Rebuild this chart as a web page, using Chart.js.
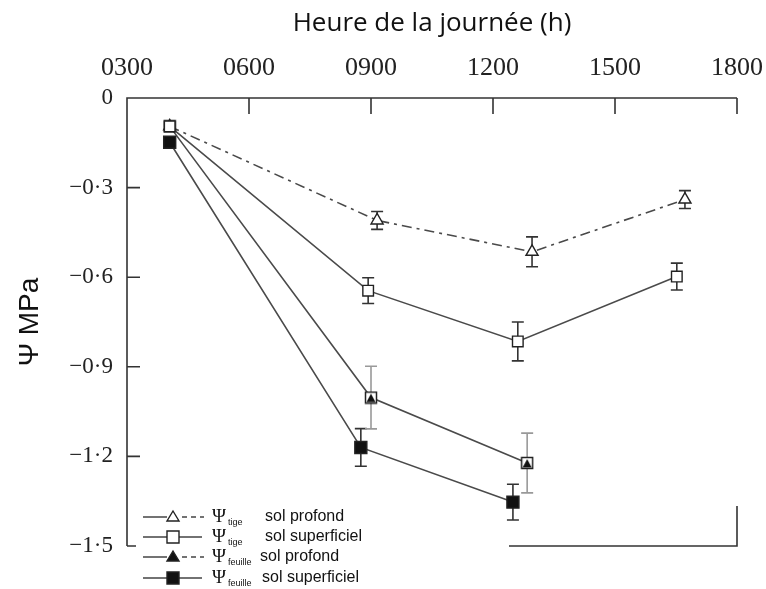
<!DOCTYPE html>
<html>
<head>
<meta charset="utf-8">
<script src="https://cdn.jsdelivr.net/npm/chart.js@4.4.0/dist/chart.umd.min.js"></script>
<style>
    html, body { margin: 0; padding: 0; background: #fff; }
    #wrap { width: 766px; height: 589px; position: relative; }
</style>
</head>
<body>
<div id="wrap"><canvas id="chart"></canvas></div>
<script>
// axis ticks
const xTickValues = [3, 6, 9, 12, 15, 18];
const xTickLabels = ['0300', '0600', '0900', '1200', '1500', '1800'];
const yTickValues = [0, -0.3, -0.6, -0.9, -1.2, -1.5];
const yTickLabels = ['0', '−0·3', '−0·6', '−0·9', '−1·2', '−1·5'];

// hour of day (decimal) / potential (MPa) / error (+/-)
const tigeProfondHours = [4.05, 9.15, 12.96, 16.72];
const tigeProfondPsi = [-0.095, -0.41, -0.515, -0.34];
const tigeProfondErr = [0, 0.03, 0.05, 0.03];

const tigeSuperficielHours = [4.05, 8.93, 12.61, 16.52];
const tigeSuperficielPsi = [-0.095, -0.645, -0.815, -0.598];
const tigeSuperficielErr = [0, 0.043, 0.065, 0.045];

const feuilleProfondHours = [4.05, 9.0, 12.84];
const feuilleProfondPsi = [-0.095, -1.003, -1.222];
const feuilleProfondErr = [0, 0.105, 0.10];

const feuilleSuperficielHours = [4.05, 8.75, 12.49];
const feuilleSuperficielPsi = [-0.148, -1.17, -1.353];
const feuilleSuperficielErr = [0, 0.063, 0.06];

const INK = '#333';

const toPoints = (hours, psi) => hours.map((h, i) => ({ x: h, y: psi[i] }));

// square outline with a filled triangle inside (as drawn in the source figure)
function squareTriangle() {
    const c = document.createElement('canvas');
    c.width = 14; c.height = 14;
    const g = c.getContext('2d');
    g.fillStyle = '#fff';
    g.fillRect(1, 1, 12, 12);
    g.strokeStyle = '#222';
    g.lineWidth = 1.5;
    g.strokeRect(1.5, 1.5, 11, 11);
    g.fillStyle = '#111';
    g.beginPath();
    g.moveTo(7, 3);
    g.lineTo(11.5, 11.5);
    g.lineTo(2.5, 11.5);
    g.closePath();
    g.fill();
    return c;
}

function drawLegend(ctx) {
    // legend pasted over the lower left corner
    ctx.fillStyle = '#fff';
    ctx.fillRect(136, 505, 373, 84);

    const rows = [
        { y: 517, dash: true, marker: 'openTri', sub: 'tige', text: 'sol profond', tx: 265 },
        { y: 537, dash: false, marker: 'openSq', sub: 'tige', text: 'sol superficiel', tx: 265 },
        { y: 557, dash: true, marker: 'fillTri', sub: 'feuille', text: 'sol profond', tx: 260 },
        { y: 578, dash: false, marker: 'fillSq', sub: 'feuille', text: 'sol superficiel', tx: 262 }
    ];
    rows.forEach(r => {
        ctx.strokeStyle = '#444';
        ctx.lineWidth = 1.5;
        ctx.setLineDash([]);
        ctx.beginPath();
        ctx.moveTo(143, r.y); ctx.lineTo(167, r.y);
        if (!r.dash) { ctx.moveTo(179, r.y); ctx.lineTo(202, r.y); }
        ctx.stroke();
        if (r.dash) {
            ctx.setLineDash([5, 4]);
            ctx.beginPath();
            ctx.moveTo(182, r.y); ctx.lineTo(204, r.y);
            ctx.stroke();
            ctx.setLineDash([]);
        }
        ctx.lineWidth = 1.4;
        ctx.strokeStyle = '#222';
        const mx = 173;
        ctx.beginPath();
        if (r.marker.endsWith('Tri')) {
            ctx.moveTo(mx, r.y - 6); ctx.lineTo(mx + 6, r.y + 4); ctx.lineTo(mx - 6, r.y + 4); ctx.closePath();
        } else {
            ctx.rect(mx - 6, r.y - 6, 12, 12);
        }
        ctx.fillStyle = r.marker.startsWith('fill') ? '#111' : '#fff';
        ctx.fill();
        ctx.stroke();

        ctx.fillStyle = '#111';
        ctx.textBaseline = 'middle';
        ctx.textAlign = 'left';
        ctx.font = '19px "Liberation Serif"';
        ctx.fillText('Ψ', 212, r.y);
        ctx.font = '9px "Liberation Sans"';
        ctx.fillText(r.sub, 228, r.y + 6);
        ctx.font = '16px "Liberation Sans"';
        ctx.fillText(r.text, r.tx, r.y);
    });
}

// frame, inward ticks, legend and error bars all go under the data markers
const underlayPlugin = {
    id: 'underlay',
    beforeDatasetsDraw(chart) {
        const { ctx, chartArea: a, scales } = chart;
        ctx.save();
        ctx.strokeStyle = INK;
        ctx.lineWidth = 1.6;
        ctx.beginPath();
        ctx.moveTo(a.left, a.bottom); ctx.lineTo(a.left, a.top);
        ctx.lineTo(a.right, a.top);
        // right side only shows near the bottom in the source
        ctx.moveTo(a.right, a.bottom - 40); ctx.lineTo(a.right, a.bottom);
        ctx.lineTo(a.left, a.bottom);
        xTickValues.forEach(v => {
            const px = scales.x.getPixelForValue(v);
            ctx.moveTo(px, a.top); ctx.lineTo(px, a.top + 16);
        });
        yTickValues.forEach(v => {
            const py = scales.y.getPixelForValue(v);
            ctx.moveTo(a.left, py); ctx.lineTo(a.left + 13, py);
        });
        ctx.stroke();

        drawLegend(ctx);

        chart.data.datasets.forEach((ds, di) => {
            const meta = chart.getDatasetMeta(di);
            ctx.strokeStyle = ds.errColor;
            ctx.lineWidth = 1.6;
            ds.errors.forEach((e, i) => {
                if (!e) return;
                const pt = meta.data[i];
                const v = ds.data[i].y;
                const yTop = scales.y.getPixelForValue(v + e);
                const yBot = scales.y.getPixelForValue(v - e);
                ctx.beginPath();
                ctx.moveTo(pt.x, yTop); ctx.lineTo(pt.x, yBot);
                ctx.moveTo(pt.x - 6, yTop); ctx.lineTo(pt.x + 6, yTop);
                ctx.moveTo(pt.x - 6, yBot); ctx.lineTo(pt.x + 6, yBot);
                ctx.stroke();
            });
        });
        ctx.restore();
    }
};

const makeSet = (label, hours, psi, errs, opts) => Object.assign({
    label: label,
    data: toPoints(hours, psi),
    errors: errs,
    errColor: INK,
    borderColor: '#4a4a4a',
    borderWidth: 1.6,
    showLine: true,
    tension: 0,
    clip: false,
    pointBorderColor: '#222',
    pointBorderWidth: 1.4,
    pointHoverRadius: 7
}, opts);

new Chart(document.getElementById('chart'), {
    type: 'scatter',
    data: {
        datasets: [
            makeSet('Ψtige sol superficiel', tigeSuperficielHours, tigeSuperficielPsi, tigeSuperficielErr, {
                pointStyle: 'rect', pointRadius: 7.5, pointBackgroundColor: '#fff'
            }),
            makeSet('Ψtige sol profond', tigeProfondHours, tigeProfondPsi, tigeProfondErr, {
                pointStyle: 'triangle', pointRadius: 7, pointBackgroundColor: '#fff',
                borderDash: [10, 5, 3, 5]
            }),
            makeSet('Ψfeuille sol superficiel', feuilleSuperficielHours, feuilleSuperficielPsi, feuilleSuperficielErr, {
                pointStyle: 'rect', pointRadius: 8.5, pointBackgroundColor: '#111'
            }),
            makeSet('Ψfeuille sol profond', feuilleProfondHours, feuilleProfondPsi, feuilleProfondErr, {
                pointStyle: squareTriangle(), errColor: '#999'
            })
        ]
    },
    options: {
        responsive: true,
        maintainAspectRatio: false,
        animation: false,
        layout: { padding: { left: 0, top: 0, right: 29, bottom: 43 } },
        plugins: {
            legend: { display: false },
            tooltip: { enabled: true }
        },
        scales: {
            x: {
                type: 'linear',
                position: 'top',
                min: 3,
                max: 18,
                afterFit: s => { s.height = 98; s.paddingLeft = 0; s.paddingRight = 0; },
                afterBuildTicks: s => { s.ticks = xTickValues.map(v => ({ value: v })); },
                grid: { display: false, drawTicks: false },
                border: { display: false },
                ticks: {
                    padding: 14,
                    color: '#222',
                    font: { family: '"Liberation Serif"', size: 26 },
                    callback: v => xTickLabels[xTickValues.indexOf(v)]
                },
                title: {
                    display: true,
                    text: 'Heure de la journée (h)',
                    color: '#111',
                    padding: { top: 8 },
                    font: { family: '"Open Sans"', size: 26 }
                }
            },
            y: {
                type: 'linear',
                min: -1.5,
                max: 0,
                afterFit: s => { s.width = 127; s.paddingTop = 0; s.paddingBottom = 0; },
                afterBuildTicks: s => { s.ticks = yTickValues.map(v => ({ value: v })); },
                grid: { display: false, drawTicks: false },
                border: { display: false },
                ticks: {
                    padding: 14,
                    color: '#222',
                    font: { family: '"Liberation Serif"', size: 23 },
                    callback: v => yTickLabels[yTickValues.indexOf(v)]
                },
                title: {
                    display: true,
                    text: 'Ψ MPa',
                    color: '#111',
                    padding: { top: 13 },
                    font: { family: '"Liberation Sans"', size: 28 }
                }
            }
        }
    },
    plugins: [underlayPlugin]
});
</script>
</body>
</html>
